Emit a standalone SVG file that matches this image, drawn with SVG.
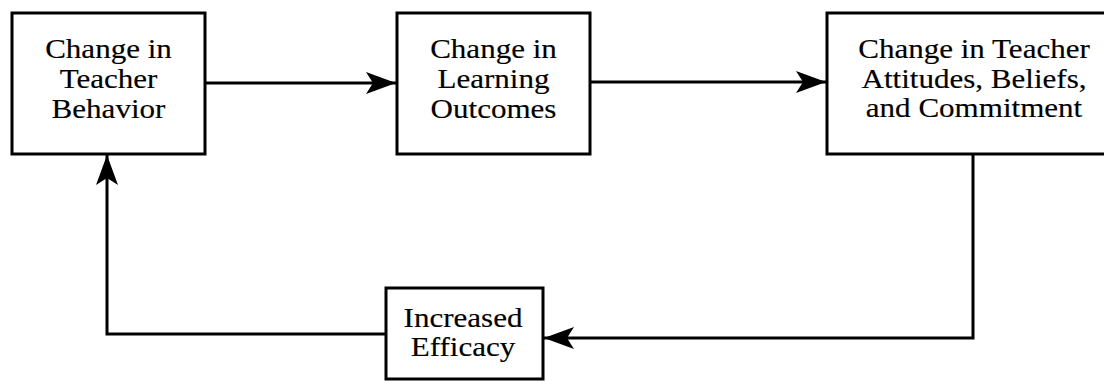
<svg xmlns="http://www.w3.org/2000/svg" width="1104" height="381" viewBox="0 0 1104 381">
<style>
.box{fill:#fff;stroke:#000;stroke-width:3}
.lbl{font-family:"Liberation Serif","Times New Roman",serif;font-size:27px;fill:#000;text-anchor:middle;stroke:#000;stroke-width:0.15}
.conn{fill:none;stroke:#000;stroke-width:3}
</style>
<defs>
<marker id="ah" markerUnits="userSpaceOnUse" markerWidth="40" markerHeight="30" viewBox="-32 -15 34 30" refX="0" refY="0" orient="auto">
<path d="M0,0 L-30,-11 L-23,0 L-30,11 Z" fill="#000"/>
</marker>
</defs>
<rect width="1104" height="381" fill="#fff"/>
<g id="connectors">
<path class="conn" d="M205,83 H396" marker-end="url(#ah)"/>
<path class="conn" d="M590,82 H826" marker-end="url(#ah)"/>
<path class="conn" d="M973,154 V338 H544" marker-end="url(#ah)"/>
<path class="conn" d="M386,334 H107 V155" marker-end="url(#ah)"/>
</g>
<g id="node-behavior">
<rect class="box" x="12" y="13" width="193" height="141"/>
<g transform="translate(108.5,0) scale(1.15,1)">
<text class="lbl" x="0" y="58">Change in</text>
<text class="lbl" x="0" y="88">Teacher</text>
<text class="lbl" x="0" y="118">Behavior</text>
</g>
</g>
<g id="node-outcomes">
<rect class="box" x="397" y="13" width="193" height="141"/>
<g transform="translate(493.5,0) scale(1.15,1)">
<text class="lbl" x="0" y="58">Change in</text>
<text class="lbl" x="0" y="88">Learning</text>
<text class="lbl" x="0" y="118">Outcomes</text>
</g>
</g>
<g id="node-attitudes">
<rect class="box" x="827" y="13" width="290" height="141"/>
<g transform="translate(974,0) scale(1.15,1)">
<text class="lbl" x="0" y="58">Change in Teacher</text>
<text class="lbl" x="0" y="88">Attitudes, Beliefs,</text>
<text class="lbl" x="0" y="117">and Commitment</text>
</g>
</g>
<g id="node-efficacy">
<rect class="box" x="386" y="288" width="157" height="91"/>
<g transform="translate(463,0) scale(1.15,1)">
<text class="lbl" x="0" y="327">Increased</text>
<text class="lbl" x="0" y="356">Efficacy</text>
</g>
</g>
</svg>
